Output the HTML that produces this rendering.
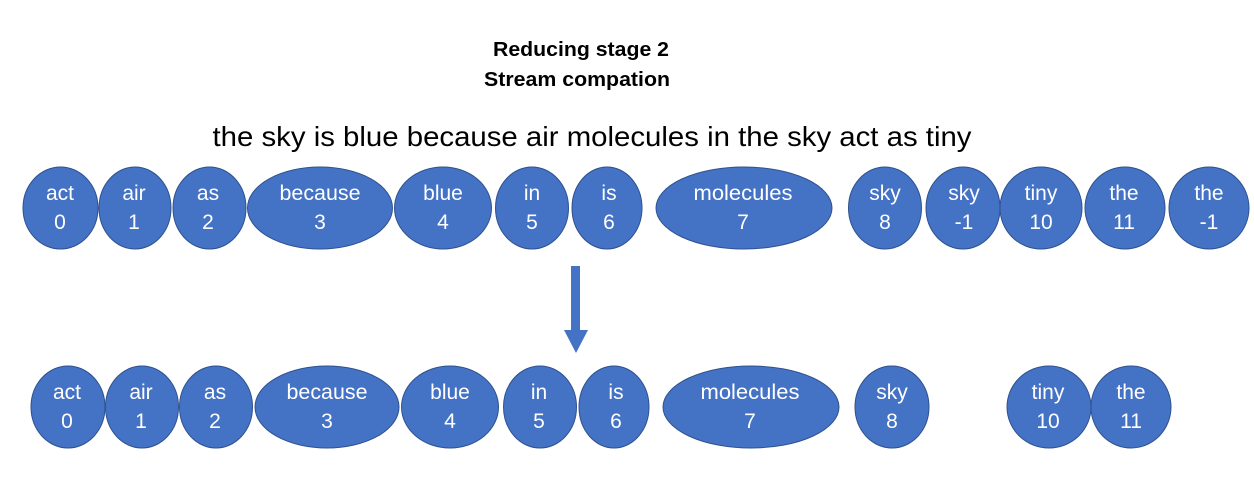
<!DOCTYPE html>
<html><head><meta charset="utf-8"><style>html,body{margin:0;padding:0;background:#fff;}svg{display:block}</style></head>
<body>
<svg width="1254" height="494" viewBox="0 0 1254 494" xmlns="http://www.w3.org/2000/svg" font-family="Liberation Sans, sans-serif">
<rect width="1254" height="494" fill="#fff"/>
<text x="581" y="56" font-size="20" font-weight="bold" text-anchor="middle" textLength="176" lengthAdjust="spacingAndGlyphs">Reducing stage 2</text>
<text x="577" y="86" font-size="20" font-weight="bold" text-anchor="middle" textLength="186" lengthAdjust="spacingAndGlyphs">Stream compation</text>
<text x="592" y="146" font-size="28" text-anchor="middle" textLength="759" lengthAdjust="spacingAndGlyphs">the sky is blue because air molecules in the sky act as tiny</text>
<g fill="#4472C4" stroke="#2F528F" stroke-width="1">
<ellipse cx="60.5" cy="208" rx="37.5" ry="41"/>
<ellipse cx="135" cy="208" rx="36" ry="41"/>
<ellipse cx="209.5" cy="208" rx="36.5" ry="41"/>
<ellipse cx="320" cy="208" rx="72.5" ry="41"/>
<ellipse cx="443" cy="208" rx="48.5" ry="41"/>
<ellipse cx="532" cy="208" rx="36.5" ry="41"/>
<ellipse cx="607" cy="208" rx="35" ry="41"/>
<ellipse cx="744" cy="208" rx="88" ry="41"/>
<ellipse cx="885" cy="208" rx="36.5" ry="41"/>
<ellipse cx="963" cy="208" rx="37" ry="41"/>
<ellipse cx="1041" cy="208" rx="41" ry="41"/>
<ellipse cx="1125" cy="208" rx="40" ry="41"/>
<ellipse cx="1209" cy="208" rx="40" ry="41"/>
<ellipse cx="68" cy="407" rx="37" ry="41"/>
<ellipse cx="142" cy="407" rx="36.5" ry="41"/>
<ellipse cx="216" cy="407" rx="36.5" ry="41"/>
<ellipse cx="327" cy="407" rx="72" ry="41"/>
<ellipse cx="450" cy="407" rx="48.5" ry="41"/>
<ellipse cx="540" cy="407" rx="36.5" ry="41"/>
<ellipse cx="614" cy="407" rx="35" ry="41"/>
<ellipse cx="751" cy="407" rx="88" ry="41"/>
<ellipse cx="892" cy="407" rx="37" ry="41"/>
<ellipse cx="1049" cy="407" rx="42" ry="41"/>
<ellipse cx="1131" cy="407" rx="40" ry="41"/>
</g>
<g fill="#fff" font-size="21" text-anchor="middle">
<text x="60" y="200">act</text><text x="60" y="229">0</text>
<text x="134" y="200">air</text><text x="134" y="229">1</text>
<text x="208" y="200">as</text><text x="208" y="229">2</text>
<text x="320" y="200" textLength="81" lengthAdjust="spacingAndGlyphs">because</text><text x="320" y="229">3</text>
<text x="443" y="200">blue</text><text x="443" y="229">4</text>
<text x="532" y="200">in</text><text x="532" y="229">5</text>
<text x="609" y="200">is</text><text x="609" y="229">6</text>
<text x="743" y="200" textLength="99" lengthAdjust="spacingAndGlyphs">molecules</text><text x="743" y="229">7</text>
<text x="885" y="200">sky</text><text x="885" y="229">8</text>
<text x="964" y="200">sky</text><text x="964" y="229">-1</text>
<text x="1041" y="200">tiny</text><text x="1041" y="229">10</text>
<text x="1124" y="200">the</text><text x="1124" y="229">11</text>
<text x="1209" y="200">the</text><text x="1209" y="229">-1</text>
<text x="67" y="399">act</text><text x="67" y="428">0</text>
<text x="141" y="399">air</text><text x="141" y="428">1</text>
<text x="215" y="399">as</text><text x="215" y="428">2</text>
<text x="327" y="399" textLength="81" lengthAdjust="spacingAndGlyphs">because</text><text x="327" y="428">3</text>
<text x="450" y="399">blue</text><text x="450" y="428">4</text>
<text x="539" y="399">in</text><text x="539" y="428">5</text>
<text x="616" y="399">is</text><text x="616" y="428">6</text>
<text x="750" y="399" textLength="99" lengthAdjust="spacingAndGlyphs">molecules</text><text x="750" y="428">7</text>
<text x="892" y="399">sky</text><text x="892" y="428">8</text>
<text x="1048" y="399">tiny</text><text x="1048" y="428">10</text>
<text x="1131" y="399">the</text><text x="1131" y="428">11</text>
</g>
<rect x="571" y="266" width="9" height="65" fill="#4472C4"/>
<polygon points="564,330 588,330 576,353" fill="#4472C4"/>
</svg>
</body></html>
